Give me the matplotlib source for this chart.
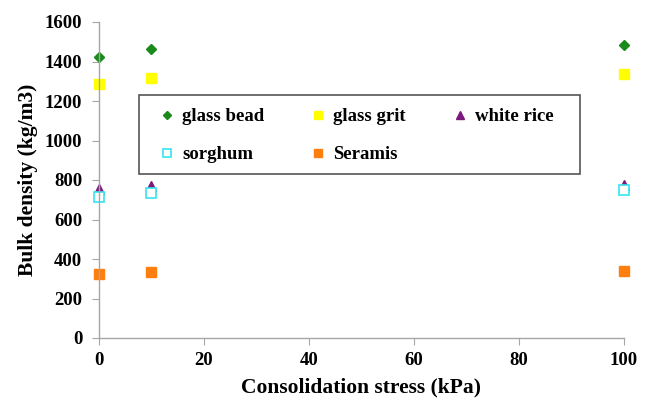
import matplotlib.pyplot as plt
from matplotlib.patches import Rectangle

# data
stress = [0, 10, 100]
glass_bead = [1423, 1463, 1483]
glass_grit = [1286, 1316, 1337]
white_rice = [754, 770, 775]
sorghum = [714, 734, 749]
seramis = [324, 334, 339]

plt.rcParams.update({
    "font.family": "Liberation Serif",
    "font.weight": "bold",
})

fig = plt.figure(figsize=(6.49, 4.0), dpi=100)
ax = fig.add_axes([0.1525, 0.155, 0.809, 0.79])

h_bead, = ax.plot(stress, glass_bead, "D", color="#1a8a1a", markersize=5.5,
                  clip_on=False, label="glass bead")
h_grit, = ax.plot(stress, glass_grit, "s", color="#ffff00", markersize=7.2,
                  clip_on=False, label="glass grit")
h_rice, = ax.plot(stress, white_rice, "^", color="#7b1a7b", markersize=6.5,
                  clip_on=False, label="white rice")
h_sorg, = ax.plot(stress, sorghum, "s", markerfacecolor="white", markeredgecolor="#33e6f0",
                  markeredgewidth=1.2, markersize=6.8, clip_on=False, label="sorghum")
h_sera, = ax.plot(stress, seramis, "s", color="#ff7f0e", markersize=7.2,
                  clip_on=False, label="Seramis")

ax.set_xlim(0, 100)
ax.set_ylim(0, 1600)
ax.set_xticks(range(0, 101, 20))
ax.set_yticks(range(0, 1601, 200))

for s in ["top", "right"]:
    ax.spines[s].set_visible(False)
for s in ["left", "bottom"]:
    ax.spines[s].set_color("#a6a6a6")
    ax.spines[s].set_linewidth(1.0)
ax.tick_params(axis="both", direction="out", length=5, color="#a6a6a6",
               labelsize=13.5)
ax.tick_params(axis="x", pad=5)
ax.tick_params(axis="y", pad=7)
for lab in ax.get_xticklabels() + ax.get_yticklabels():
    lab.set_fontweight("bold")

ax.set_xlabel("Consolidation stress (kPa)", fontsize=15.5, fontweight="bold", labelpad=6)
ax.set_ylabel("Bulk density (kg/m3)", fontsize=15.5, fontweight="bold", labelpad=5)

# legend frame drawn separately so it spans the same box as the original
ax.add_patch(Rectangle((0.0762, 0.519), 0.84, 0.25, transform=ax.transAxes,
                       facecolor="white", edgecolor="#555555", linewidth=1.2,
                       zorder=4.5, clip_on=False))

# row-major order in a 3-column legend
handles = [h_bead, h_sorg, h_grit, h_sera, h_rice]
leg = ax.legend(handles=handles, labels=[h.get_label() for h in handles],
                loc="upper left", bbox_to_anchor=(0.0762, 0.769),
                ncol=3, frameon=False, prop={"weight": "bold", "size": 13.5},
                handlelength=1.59, handletextpad=0.0, borderpad=0.7,
                labelspacing=1.12, columnspacing=2.1,
                borderaxespad=0, markerscale=0.8)

fig.savefig("out.png", dpi=100)
